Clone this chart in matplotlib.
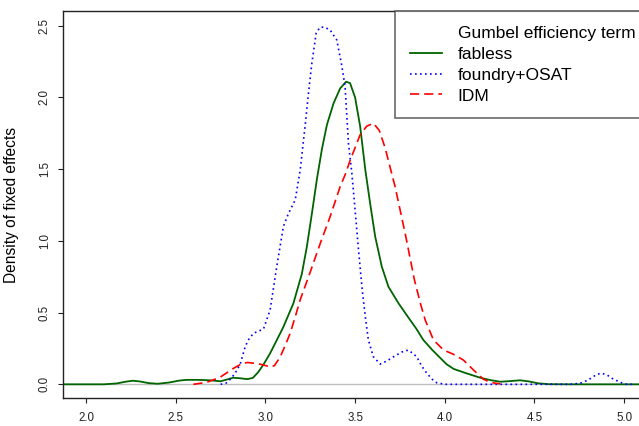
import numpy as np
import matplotlib
matplotlib.use('Agg')
import matplotlib.pyplot as plt

plt.rcParams['font.family'] = ['Liberation Sans', 'DejaVu Sans']

fabless_x = [1.80, 2.10, 2.17, 2.22, 2.26, 2.30, 2.35, 2.40, 2.46, 2.52, 2.56, 2.62, 2.69, 2.75,
             2.79, 2.82, 2.86, 2.90, 2.93, 2.96, 2.99, 3.026, 3.06, 3.10, 3.156, 3.203, 3.231,
             3.259, 3.287, 3.315, 3.343, 3.38, 3.417, 3.45, 3.472, 3.50, 3.528, 3.557, 3.584,
             3.612, 3.649, 3.686, 3.742, 3.807, 3.84, 3.88, 3.93, 3.97, 4.01, 4.05, 4.12, 4.20,
             4.26, 4.31, 4.36, 4.42, 4.47, 4.52, 4.58, 4.70, 5.30]
fabless_y = [0.0, 0.0, 0.006, 0.018, 0.025, 0.02, 0.008, 0.004, 0.012, 0.026, 0.031, 0.031, 0.028,
             0.021, 0.035, 0.046, 0.042, 0.036, 0.045, 0.085, 0.14, 0.216, 0.30, 0.40, 0.565,
             0.77, 0.96, 1.19, 1.43, 1.64, 1.81, 1.96, 2.064, 2.11, 2.10, 2.0, 1.80, 1.495,
             1.26, 1.03, 0.82, 0.68, 0.565, 0.448, 0.39, 0.31, 0.24, 0.19, 0.14, 0.107, 0.077,
             0.045, 0.028, 0.018, 0.022, 0.028, 0.02, 0.007, 0.001, 0.0, 0.0]

foundry_x = [2.75, 2.78, 2.80, 2.83, 2.859, 2.887, 2.905, 2.933, 2.96, 2.989, 3.026, 3.063, 3.10,
             3.128, 3.166, 3.194, 3.221, 3.24, 3.259, 3.283, 3.305, 3.33, 3.361, 3.398, 3.426,
             3.444, 3.463, 3.482, 3.50, 3.519, 3.538, 3.557, 3.574, 3.602, 3.64, 3.68, 3.714,
             3.76, 3.798, 3.844, 3.87, 3.90, 3.93, 3.955, 4.0, 4.70, 4.755, 4.80, 4.848, 4.876,
             4.905, 4.932, 4.978, 5.015, 5.05]
foundry_y = [0.0, 0.008, 0.03, 0.075, 0.14, 0.262, 0.31, 0.356, 0.37, 0.385, 0.518, 0.82, 1.10,
             1.19, 1.285, 1.495, 1.80, 2.03, 2.24, 2.45, 2.49, 2.49, 2.47, 2.40, 2.22, 2.075,
             1.68, 1.47, 1.215, 0.937, 0.68, 0.47, 0.309, 0.192, 0.141, 0.165, 0.192, 0.225,
             0.239, 0.192, 0.13, 0.077, 0.035, 0.011, 0.0, 0.0, 0.007, 0.03, 0.07, 0.077, 0.065,
             0.042, 0.014, 0.0, 0.0]

idm_x = [2.598, 2.673, 2.747, 2.82, 2.87, 2.90, 2.95, 2.989, 3.026, 3.05, 3.082, 3.11, 3.138,
         3.166, 3.194, 3.249, 3.305, 3.361, 3.417, 3.444, 3.472, 3.528, 3.565, 3.602, 3.635,
         3.667, 3.723, 3.779, 3.831, 3.865, 3.891, 3.937, 3.993, 4.049, 4.104, 4.16, 4.216,
         4.26, 4.31]
idm_y = [0.0, 0.014, 0.049, 0.11, 0.145, 0.152, 0.145, 0.135, 0.121, 0.13, 0.19, 0.27, 0.356,
         0.47, 0.59, 0.78, 0.98, 1.17, 1.38, 1.46, 1.56, 1.74, 1.80, 1.82, 1.77, 1.65, 1.378,
         1.053, 0.727, 0.56, 0.448, 0.309, 0.239, 0.209, 0.169, 0.1, 0.035, 0.012, 0.003]

legend_labels = ['Gumbel efficiency term', 'fabless', 'foundry+OSAT', 'IDM']
xticks = [2.0, 2.5, 3.0, 3.5, 4.0, 4.5, 5.0]
yticks = [0.0, 0.5, 1.0, 1.5, 2.0, 2.5]

fig = plt.figure(figsize=(6.39, 4.26), dpi=100)
ax = fig.add_axes([0.0991, 0.065, 0.934, 0.9092])

ax.axhline(0, color='#BEBEBE', lw=1.0, zorder=1)
title_h, = ax.plot([], [], linestyle='none')
l1, = ax.plot(fabless_x, fabless_y, color='#006400', lw=1.3)
l2, = ax.plot(foundry_x, foundry_y, color='blue', lw=1.2, dashes=(1, 2))
l3, = ax.plot(idm_x, idm_y, color='red', lw=1.2, dashes=(5.5, 3))

ax.set_xlim(1.873, 5.201)
ax.set_ylim(-0.0976, 2.603)
ax.set_xticks(xticks)
ax.set_xticklabels(['%.1f' % v for v in xticks])
ax.set_yticks(yticks)
ax.set_yticklabels(['%.1f' % v for v in yticks], rotation=90, va='center')
ax.tick_params(axis='both', length=3.6, width=0.8, labelsize=8.3, colors='#222222')
ax.tick_params(axis='x', pad=6.5)
ax.tick_params(axis='y', pad=5.5)
for s in ax.spines.values():
    s.set_linewidth(1.0)
    s.set_color('#222222')

ax.set_ylabel('Density of fixed effects', fontsize=11.2)
ax.yaxis.set_label_coords(-0.075, 0.5)

leg = ax.legend([title_h, l1, l2, l3], legend_labels, loc='upper left',
                bbox_to_anchor=(395 / 639, 1 - 11 / 426), bbox_transform=fig.transFigure,
                fontsize=12.5, frameon=True, fancybox=False, borderpad=0.85,
                handlelength=1.84, handletextpad=0.92, labelspacing=0.33, borderaxespad=0)
leg.get_frame().set_edgecolor('#444444')
leg.get_frame().set_linewidth(1.2)

fig.savefig('out.png', dpi=100)
